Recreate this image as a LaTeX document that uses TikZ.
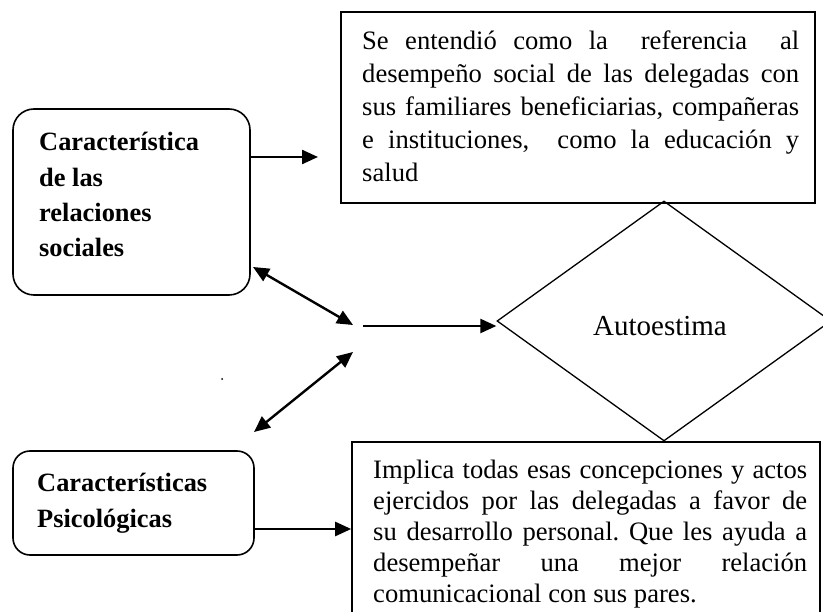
\documentclass[tikz,border=0pt]{standalone}
\usepackage{fontspec}
\setmainfont{Liberation Serif}
\usetikzlibrary{arrows.meta,shapes.geometric}
\frenchspacing
\begin{document}
\begin{tikzpicture}[x=1pt,y=-1pt,
  box/.style={draw, line width=1.6pt, inner sep=0pt},
  rbox/.style={box, rounded corners=#1},
  arr/.style={line width=2.4pt, -{Triangle[length=16pt,width=14pt]}},
  darr/.style={line width=2.4pt, {Triangle[length=16pt,width=14pt]}-{Triangle[length=16pt,width=14pt]}},
  bodytext/.style={inner sep=0pt, anchor=base west, font=\fontsize{26.6}{31}\selectfont},
  toptextstyle/.style={inner sep=0pt, anchor=base west, font=\fontsize{26.6}{33}\selectfont},
  boldtext/.style={inner sep=0pt, anchor=base west, font=\fontsize{26.4}{35.3}\selectfont\bfseries}]
\useasboundingbox (0,0) rectangle (823,612);
\fill[white] (0,0) rectangle (823,612);

% boxes
\node[box, minimum width=474pt, minimum height=191pt] (top) at (578,107.5) {};
\node[rbox=21pt, minimum width=237pt, minimum height=186pt] (rel) at (131.5,202) {};
\node[rbox=17pt, minimum width=241pt, minimum height=104pt] (psi) at (133.5,503) {};
\node[box, minimum width=468pt, minimum height=186pt] (bot) at (586,535) {};
\node[draw, diamond, line width=1.3pt, minimum width=334pt, minimum height=240pt, inner sep=0pt] (dia) at (664,321) {};

% texts
\node[toptextstyle] (toptext) at (362,50) {\parbox[t]{437pt}{%
\hbox to\hsize{Se entendió como la \ referencia \ al}%
\hbox to\hsize{desempeño social de las delegadas con}%
\hbox to\hsize{sus familiares beneficiarias, compañeras}%
\hbox to\hsize{e instituciones, \ como la educación y}%
\hbox{salud}}};
\node[boldtext] (reltext) at (39,151) {\parbox[t]{205pt}{%
\hbox{Característica}\hbox{de las}\hbox{relaciones}\hbox{sociales}}};
\node[boldtext] (psitext) at (37,492) {\parbox[t]{210pt}{%
\hbox{Características}\hbox{Psicológicas}}};
\node[bodytext] (bottext) at (373,479) {\parbox[t]{434pt}{%
\hbox to\hsize{Implica todas esas concepciones y actos}%
\hbox to\hsize{ejercidos por las delegadas a favor de}%
\hbox to\hsize{su desarrollo personal. Que les ayuda a}%
\hbox to\hsize{desempeñar una mejor relación}%
\hbox{comunicacional con sus pares.}}};
\node[inner sep=0pt, font=\fontsize{29}{34}\selectfont] (autolbl) at (660,326) {Autoestima};

% connectors
\coordinate (a1e) at (318,157);
\draw[arr] (rel.east |- a1e) -- (a1e);
\coordinate (d1a) at (253,267);
\coordinate (d1b) at (353,325);
\draw[darr] (d1a) -- (d1b);
\coordinate (h1) at (363,326);
\draw[arr] (h1) -- (dia.west |- h1);
\coordinate (d2a) at (353,352);
\coordinate (d2b) at (254,432);
\draw[darr] (d2a) -- (d2b);
\coordinate (a5) at (0,529);
\draw[arr] (psi.east |- a5) -- (bot.west |- a5);

% stray dot
\fill (222,379) circle (1pt);
\end{tikzpicture}
\end{document}
